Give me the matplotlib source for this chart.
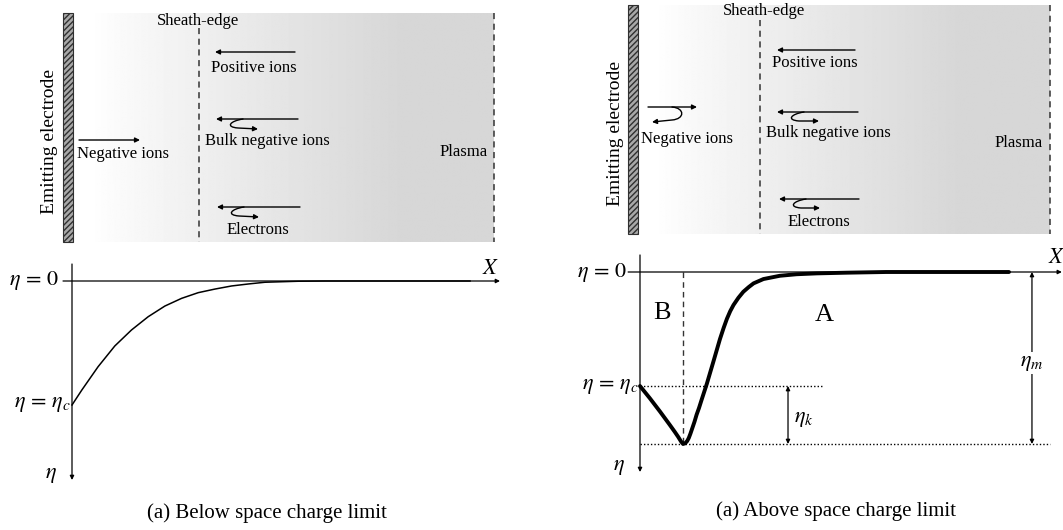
import matplotlib
matplotlib.use('Agg')
import matplotlib.pyplot as plt
import numpy as np
from matplotlib.patches import Rectangle, FancyArrowPatch
from matplotlib.path import Path

plt.rcParams['font.family'] = 'Liberation Serif'
plt.rcParams['mathtext.fontset'] = 'stix'

W, H = 1063, 530

# potential profiles: x is scaled to the axis length, eta to the lowest marked level
below_x = [0.0, 0.023, 0.061, 0.100, 0.139, 0.178, 0.217, 0.256, 0.295, 0.334,
           0.373, 0.412, 0.451, 0.528, 0.591, 0.75, 0.93]
below_eta = [-1.0, -0.879, -0.691, -0.524, -0.395, -0.288, -0.202, -0.140, -0.094,
             -0.065, -0.040, -0.024, -0.010, -0.002, 0.0, 0.0, 0.0]

above_x = [0.0, 0.024, 0.049, 0.073, 0.085, 0.093, 0.100, 0.105, 0.110, 0.115,
           0.119, 0.123, 0.128, 0.133, 0.138, 0.144, 0.150, 0.163, 0.179, 0.195,
           0.204, 0.212, 0.220, 0.228, 0.240, 0.252, 0.265, 0.277, 0.301, 0.341,
           0.382, 0.431, 0.504, 0.60, 0.90]
above_eta = [-0.663, -0.734, -0.812, -0.890, -0.930, -0.958, -0.985, -1.0, -0.996,
             -0.983, -0.965, -0.940, -0.905, -0.870, -0.830, -0.790, -0.745, -0.650,
             -0.521, -0.390, -0.325, -0.272, -0.228, -0.192, -0.150, -0.115, -0.088,
             -0.066, -0.041, -0.022, -0.013, -0.008, -0.004, 0.0, 0.0]
eta_c_above = -0.663
x_min_above = 0.105

species = ['Positive ions', 'Bulk negative ions', 'Electrons']
captions = ['(a) Below space charge limit', '(a) Above space charge limit']

fig = plt.figure(figsize=(W / 100, H / 100), dpi=100)
bg = fig.add_axes([0, 0, 1, 1])
bg.set_xlim(0, W)
bg.set_ylim(H, 0)
bg.axis('off')

arrow_kw = dict(arrowstyle='-|>', color='k', lw=1.0, mutation_scale=7,
                shrinkA=0, shrinkB=0)


def arrow(ax, tail, tip, **kw):
    props = dict(arrow_kw)
    props.update(kw)
    ax.annotate('', xy=tip, xytext=tail, arrowprops=props, annotation_clip=False)


def curl(verts):
    codes = [Path.MOVETO, Path.CURVE4, Path.CURVE4, Path.CURVE4, Path.LINETO]
    p = FancyArrowPatch(path=Path(verts, codes), arrowstyle='-|>', color='k',
                        lw=1.0, mutation_scale=7)
    bg.add_patch(p)


def sheath_box(xe, y0, y1, xs, xr):
    # shaded gap from the electrode to the plasma edge
    cols = np.linspace(0, 1, 400)
    shade = 1 - 0.16 * np.clip((cols - 0.04) / 0.75, 0, 1) ** 0.9
    bg.imshow(shade[None, :], cmap='gray', vmin=0, vmax=1, aspect='auto',
              extent=(xe + 10, xr, y1, y0), zorder=0)
    bg.add_patch(Rectangle((xe, y0), 10, y1 - y0, facecolor='#a8a8a8',
                           edgecolor='#303030', hatch='//////', lw=0.8, zorder=2))
    bg.plot([xs, xs], [y0 + 15, y1], color='#333333', lw=1.1, ls=(0, (4, 3)))
    bg.plot([xr, xr], [y0, y1], color='#333333', lw=1.1, ls=(0, (4, 3)))


txt = dict(fontsize=12, color='k')

# left schematic
sheath_box(63, 13, 242, 199, 494)
bg.text(198, 21, 'Sheath-edge', ha='center', va='center', **txt)
bg.text(50, 142, 'Emitting electrode', rotation=90, ha='center', va='center', fontsize=14)
arrow(bg, (295, 52), (215, 52))
arrow(bg, (298, 119), (216, 119))
curl([(243, 119), (230, 121), (225, 127), (238, 128), (258, 129)])
arrow(bg, (300, 207), (217, 207))
curl([(244, 207), (231, 209), (226, 215), (239, 216), (259, 217)])
arrow(bg, (79, 140), (140, 140))
for s, (x, y) in zip(species, [(254, 68), (267, 141), (258, 230)]):
    bg.text(x, y, s, ha='center', va='center', **txt)
bg.text(77, 154, 'Negative ions', ha='left', va='center', **txt)
bg.text(488, 152, 'Plasma', ha='right', va='center', **txt)

# right schematic
sheath_box(628, 5, 234, 760, 1050)
bg.text(764, 11, 'Sheath-edge', ha='center', va='center', **txt)
bg.text(615, 133, 'Emitting electrode', rotation=90, ha='center', va='center', fontsize=14)
arrow(bg, (855, 50), (777, 50))
arrow(bg, (858, 112), (777, 112))
curl([(804, 112), (791, 114), (786, 120), (799, 121), (819, 121)])
arrow(bg, (859, 199), (779, 199))
curl([(806, 199), (793, 201), (788, 207), (801, 208), (820, 208)])
arrow(bg, (648, 107), (697, 107))
curl([(672, 107), (685, 108), (685, 119), (672, 120), (652, 122)])
for s, (x, y) in zip(species, [(815, 63), (828, 133), (819, 222)]):
    bg.text(x, y, s, ha='center', va='center', **txt)
bg.text(641, 139, 'Negative ions', ha='left', va='center', **txt)
bg.text(1043, 143, 'Plasma', ha='right', va='center', **txt)

bg.text(267, 513, captions[0], ha='center', va='center', fontsize=15)
bg.text(836, 511, captions[1], ha='center', va='center', fontsize=15)


def panel_axes(l, r, t, b):
    ax = fig.add_axes([l / W, 1 - b / H, (r - l) / W, (b - t) / H])
    ax.set_xlim(0, 1)
    ax.set_ylim(-1, 0)
    ax.axis('off')
    return ax


def label(ax, s, xy, dx):
    ax.annotate(s, xy=xy, xytext=(dx, 0), textcoords='offset points', ha='right',
                va='center', fontsize=mt, annotation_clip=False)


axis_kw = dict(arrowstyle='-|>', color='k', lw=0.9, mutation_scale=6,
               shrinkA=0, shrinkB=0)
mt = 16

# left potential plot
ax1 = panel_axes(72, 500, 281, 405)
arrow(ax1, (-0.021, 0), (1.0, 0), **axis_kw)
arrow(ax1, (0, 0.137), (0, -1.605), **axis_kw)
ax1.plot(below_x, below_eta, color='k', lw=1.1, clip_on=False, solid_joinstyle='round')
label(ax1, r'$\eta\,=\,0$', (0, 0), -9)
label(ax1, r'$\eta\,=\,\eta_c$', (0, -1), -1)
label(ax1, r'$\eta$', (0, -1.565), -11)
ax1.text(0.977, 0.09, r'$X$', ha='center', va='center', fontsize=mt)

# right potential plot
ax2 = panel_axes(640, 1050, 272, 444)
arrow(ax2, (-0.029, 0), (1.029, 0), **axis_kw)
arrow(ax2, (0, 0.099), (0, -1.163), **axis_kw)
dot = dict(color='k', lw=1.0, ls=(0, (1, 1.5)), clip_on=False)
ax2.plot([0, 0.446], [eta_c_above, eta_c_above], **dot)
ax2.plot([0, 1.0], [-1, -1], **dot)
ax2.plot([x_min_above, x_min_above], [0, -1], color='#333333', lw=1.0, ls=(0, (4, 3)))
ax2.plot(above_x, above_eta, color='k', lw=2.8, clip_on=False, solid_joinstyle='round',
         solid_capstyle='round')
arrow(ax2, (0.361, eta_c_above), (0.361, -1), arrowstyle='<|-|>', lw=0.9, mutation_scale=6)
arrow(ax2, (0.956, 0), (0.956, -1), arrowstyle='<|-|>', lw=0.9, mutation_scale=6)
ax2.text(0.375, -0.86, r'$\eta_k$', ha='left', va='center', fontsize=mt)
ax2.text(0.956, -0.53, r'$\eta_m$', ha='center', va='center', fontsize=mt,
         bbox=dict(facecolor='white', edgecolor='none', pad=1))
ax2.text(0.053, -0.24, 'B', ha='center', va='center', fontsize=19)
ax2.text(0.45, -0.25, 'A', ha='center', va='center', fontsize=19)
label(ax2, r'$\eta\,=\,0$', (0, 0), -9)
label(ax2, r'$\eta\,=\,\eta_c$', (0, eta_c_above), -1)
label(ax2, r'$\eta$', (0, -1.135), -11)
ax2.text(1.015, 0.076, r'$X$', ha='center', va='center', fontsize=mt)

fig.savefig('out.png', dpi=100)
